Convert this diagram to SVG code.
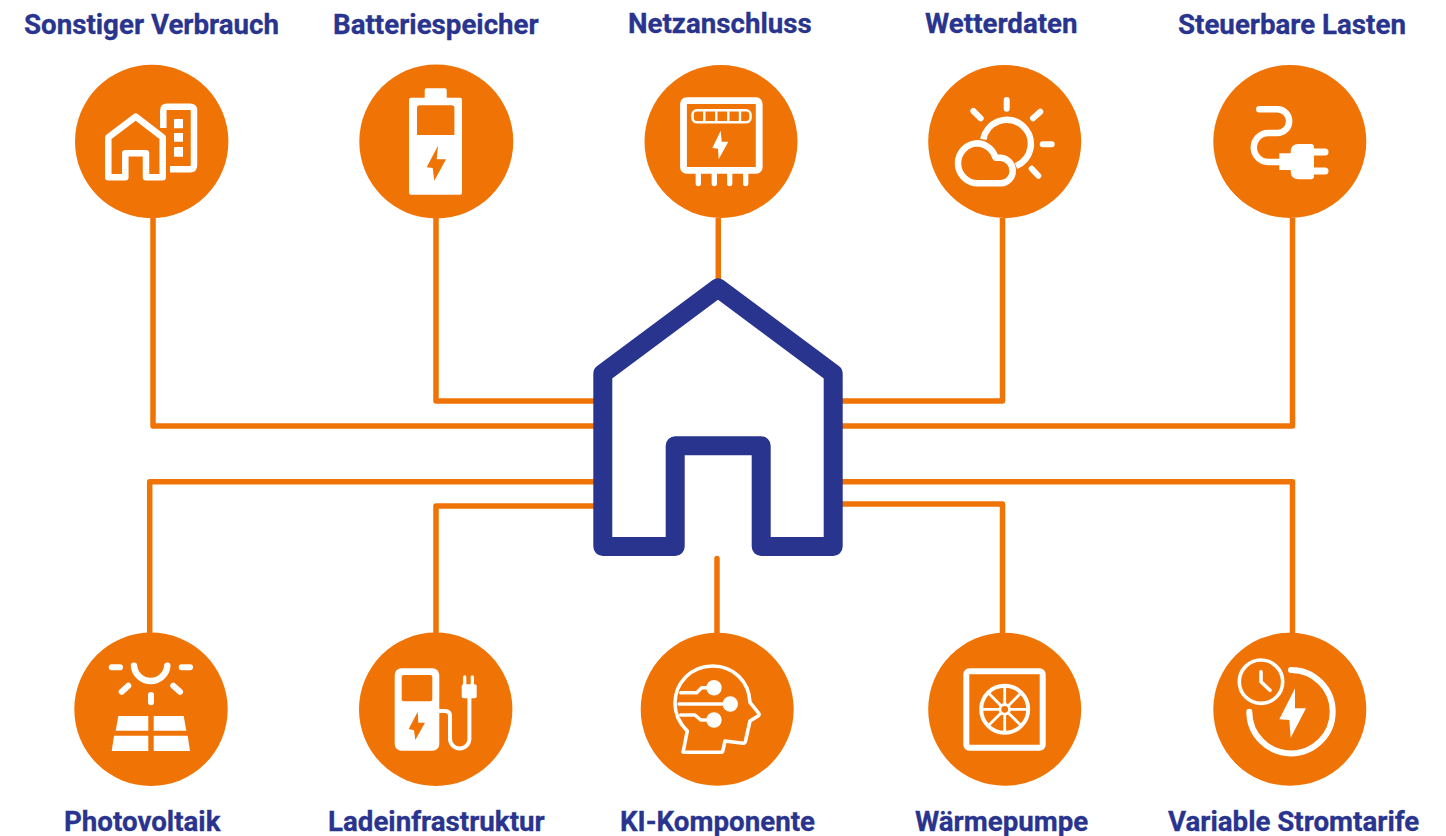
<svg xmlns="http://www.w3.org/2000/svg" width="1446" height="836" viewBox="0 0 1446 836">
<style>
.c{fill:#f07305}
.w{fill:#fff}
.o{fill:#f07305}
.s{fill:none;stroke:#fff;stroke-width:6.5;stroke-linecap:round;stroke-linejoin:round}
.t{font-family:Roboto,"Liberation Sans",sans-serif;font-weight:700;font-size:27.7px;fill:#29348e;stroke:#29348e;stroke-width:.3px}
.k{fill:none;stroke:#f07305;stroke-width:5.5;stroke-linejoin:round}
</style>
<rect width="1446" height="836" fill="#fff"/>
<g id="connectors">
<path class="k" d="M153 218V426H594"/>
<path class="k" d="M436 218V401H594"/>
<path class="k" d="M718.300 218V279"/>
<path class="k" d="M1002.500 218V401H842"/>
<path class="k" d="M1292.500 218V426H842"/>
<path class="k" d="M149.700 633V481.700H594"/>
<path class="k" d="M436 633V506H594"/>
<path class="k" d="M717 558.500V633" stroke-linecap="round"/>
<path class="k" d="M1002.500 633V504H842"/>
<path class="k" d="M1292.500 633V481.700H842"/>
</g>
<g id="house">
<path d="M718 287.900L833.200 373.600V546.500H761.200V445.800H675.200V546.500H602.800V373.600Z" fill="none" stroke="#29348e" stroke-width="19" stroke-linejoin="round"/>
</g>
<g id="sonstiger-verbrauch">
<circle class="c" cx="151.700" cy="141.500" r="76.700"/>
<path class="s" d="M108.300 177.300V137.300L135.700 116.700L162.700 137.300V177.300H146V153.300H125.300V177.300Z"/>
<path class="s" style="stroke-linecap:butt" d="M163.300 128V110.500q0-3.800 3.800-3.800H190q4 0 4 4V165.300q0 4-4 4H170"/>
<path class="w" d="M174 119h9v9.300h-9zM174 133h9v8.700h-9zM174 147h9v9.700h-9z"/>
<text class="t" x="24" y="34.300">Sonstiger Verbrauch</text>
</g>
<g id="batteriespeicher">
<circle class="c" cx="436.300" cy="141.500" r="77"/>
<path class="w" d="M424.700 97.700V90q0-1.700 1.700-1.700h18.600q1.700 0 1.700 1.700v7.700h13.300q2 0 2 2v93q0 2-2 2H411q-2 0-2-2v-93q0-2 2-2z"/>
<path class="o" d="M417 135V108q0-2.700 2.700-2.700h32q2.700 0 2.700 2.700v27zM438 145.700L426.700 167.300L432.700 168L434.300 180.700L446 159.300H436.700Z"/>
<text class="t" x="333" y="34.300">Batteriespeicher</text>
</g>
<g id="netzanschluss">
<circle class="c" cx="721" cy="141.500" r="76.500"/>
<rect x="683.500" y="100.700" width="75.700" height="69.600" rx="3" fill="none" stroke="#fff" stroke-width="6.800"/>
<rect x="692.500" y="110.300" width="58" height="12" rx="4.500" fill="none" stroke="#fff" stroke-width="2.600"/>
<path d="M704.300 110V122.500M716.300 110V122.500M728.300 110V122.500M740 110V122.500" fill="none" stroke="#fff" stroke-width="2.400"/>
<path class="w" d="M720.700 130.700L712.300 148L718 148.700L718.700 159.300L728.300 141.700H721.700Z"/>
<path class="s" style="stroke-width:5.300" d="M698.300 172V183.500M714.300 172V183.500M729.700 172V183.500M745.700 172V183.500"/>
<text class="t" x="628" y="32.600">Netzanschluss</text>
</g>
<g id="wetterdaten">
<circle class="c" cx="1004.700" cy="141.500" r="76.500"/>
<path class="s" style="stroke-linecap:butt" d="M983.300 139.300A24 24 0 1 1 1016 166"/>
<path class="s" d="M978 183.300A20 20 0 0 1 978 143.300A20 20 0 0 1 995.500 157.700H1000.700A13 13 0 0 1 1012.700 171A12.300 12.300 0 0 1 1001 183.300Z"/>
<path class="s" style="stroke-width:6" d="M1006.700 100V108.700M1040.300 111.700L1033 118.300M1042.700 144.300H1051.700M1031.700 168.700L1038.300 175.700M973.300 111L980.700 118.300"/>
<text class="t" x="925" y="33.300">Wetterdaten</text>
</g>
<g id="steuerbare-lasten">
<circle class="c" cx="1289.800" cy="141.500" r="76.500"/>
<path class="s" d="M1259.300 109.300H1277.300a11.800 11.800 0 0 1 0 23.700H1268.300a14.500 14.500 0 0 0 0 29H1282"/>
<path class="w" d="M1279.300 153.300H1290.700V152q0-8 8-8H1311q3 0 3 3V176.300q0 3-3 3H1298.700q-8 0-8-8V170H1279.300Z"/>
<path class="s" style="stroke-width:7" d="M1313 152H1325M1313 171H1325"/>
<text class="t" x="1178" y="33.800">Steuerbare Lasten</text>
</g>
<g id="photovoltaik">
<circle class="c" cx="151" cy="709.300" r="76.700"/>
<path class="s" d="M134 665.700A16.700 16.700 0 0 0 167.300 665.700"/>
<path class="s" style="stroke-width:6" d="M111.700 667.300H120M181.700 667.300H190M121.700 691.700L128.300 685.700M173.300 685.700L180 691.700M151 695V702.300"/>
<path class="w" d="M118.300 716H148.300V730.700H115.700ZM153.700 716H183.700L186.300 730.700H153.700ZM114 735.700H148.300V751H111.700ZM153.700 735.700H187.700L190 751H153.700Z"/>
<text class="t" x="64" y="831">Photovoltaik</text>
</g>
<g id="ladeinfrastruktur">
<circle class="c" cx="435.700" cy="709.300" r="76.700"/>
<rect class="w" x="394.700" y="668.300" width="44.600" height="82.400" rx="6.700"/>
<rect class="o" x="401.700" y="675" width="30.600" height="26.300" rx="2"/>
<path class="o" d="M417.700 711.700L408.700 729L414 730.300L415.300 740L425 722.700H418.300Z"/>
<path class="s" style="stroke-width:4;stroke-linecap:butt" d="M439 711H445q5 0 5 5V738.700a9.700 9.700 0 0 0 19.400 0V697"/>
<rect class="w" x="461.700" y="684.300" width="15" height="14" rx="2"/>
<path class="s" style="stroke-width:3.300" d="M464.700 677V685M472.300 677V685"/>
<text class="t" x="328" y="831">Ladeinfrastruktur</text>
</g>
<g id="ki-komponente">
<circle class="c" cx="717.200" cy="709.300" r="76.500"/>
<path class="s" style="stroke-width:3.600" d="M683.300 751Q682 752.300 685 752.300H720.700Q722.700 752.300 723 750L725 741L743 743.300Q745 743.500 745.500 741L750 721L758 716Q760 714.500 758.500 713L750 702.300C749 681 733 666 712.700 666C691 666 675 683 675 703.300C675 714 680 724 687.300 731Z"/>
<path class="s" style="stroke-width:3.400" d="M680.700 692.700H696.700L701.700 687.700H714M679 704H730M680.700 715H695L700.700 720H714"/>
<circle class="w" cx="714" cy="687.700" r="7.700"/>
<circle class="w" cx="730.300" cy="704" r="7.700"/>
<circle class="w" cx="714" cy="720" r="7.700"/>
<text class="t" x="620" y="831">KI-Komponente</text>
</g>
<g id="waermepumpe">
<circle class="c" cx="1004.700" cy="709.300" r="76.500"/>
<rect x="966.300" y="671.200" width="76.400" height="76.500" rx="3" fill="none" stroke="#fff" stroke-width="6"/>
<circle cx="1004.700" cy="709.300" r="23.500" fill="none" stroke="#fff" stroke-width="4"/>
<path d="M1004.700 686V703.800M1004.700 714.800V732.600M981.400 709.300H999.200M1010.200 709.300H1028M988.200 692.800L1000.800 705.400M1008.600 713.200L1021.200 725.800M1021.200 692.800L1008.600 705.400M1000.800 713.200L988.200 725.800" fill="none" stroke="#fff" stroke-width="2.800"/>
<circle cx="1004.700" cy="709.300" r="4.800" fill="none" stroke="#fff" stroke-width="2.800"/>
<text class="t" x="915" y="831">Wärmepumpe</text>
</g>
<g id="variable-stromtarife">
<circle class="c" cx="1289.800" cy="709.300" r="76.500"/>
<circle cx="1261" cy="681.700" r="21.700" fill="none" stroke="#fff" stroke-width="3.600"/>
<path class="s" style="stroke-width:3.600" d="M1261 671.700V681.700L1270 690.300"/>
<path class="s" style="stroke-width:6" d="M1291 670A41.700 41.700 0 1 1 1249.300 711.700"/>
<path class="w" d="M1295 688.300L1279.300 719.300L1289.300 720L1290.700 737.700L1306 708.300H1295Z"/>
<text class="t" x="1168" y="831">Variable Stromtarife</text>
</g>
</svg>
